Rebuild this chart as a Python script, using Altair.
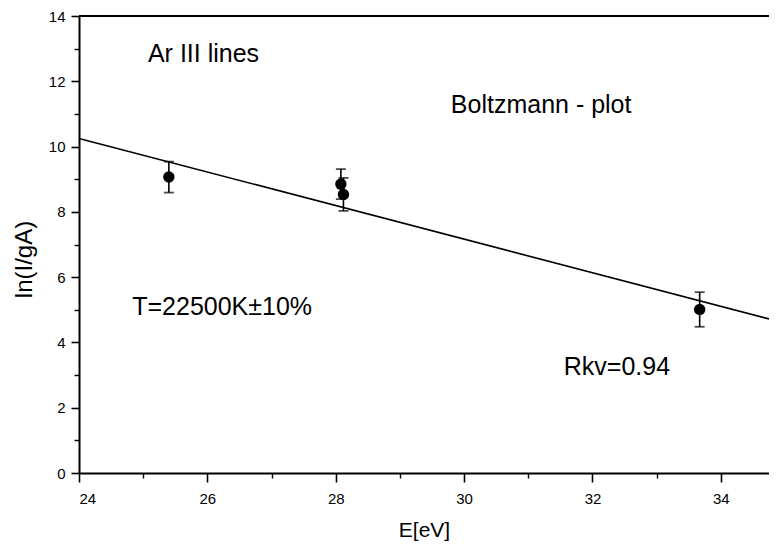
import altair as alt
import pandas as pd

# ---- data ----
energy = [25.40, 28.08, 28.12, 33.67]
ln_val = [9.07, 8.85, 8.53, 5.01]
err_lo = [8.59, 8.39, 8.03, 4.48]
err_hi = [9.54, 9.31, 9.04, 5.54]

fit_x = [24.0, 34.75]
fit_y = [10.25, 4.72]

x_major = [24, 26, 28, 30, 32, 34]
x_minor = [25, 27, 29, 31, 33]
y_major = [0, 2, 4, 6, 8, 10, 12, 14]
y_minor = [1, 3, 5, 7, 9, 11, 13]

notes = ["Ar III lines", "Boltzmann - plot", "T=22500K±10%", "Rkv=0.94"]
note_x = [25.94, 31.20, 26.23, 32.38]
note_y = [12.84, 11.26, 5.09, 3.25]

X_DOMAIN = [24, 34.75]
Y_DOMAIN = [0, 14]

FONT = "Liberation Sans"

pts = pd.DataFrame({"E": energy, "v": ln_val, "lo": err_lo, "hi": err_hi})
caps = pd.DataFrame({"E": energy + energy, "v": err_lo + err_hi})
fit = pd.DataFrame({"E": fit_x, "v": fit_y})
top = pd.DataFrame({"E": [X_DOMAIN[0]], "E2": [X_DOMAIN[1]], "v": [Y_DOMAIN[1]]})
txt = pd.DataFrame({"t": notes, "E": note_x, "v": note_y})

xs = alt.Scale(domain=X_DOMAIN, nice=False, zero=False)
ys = alt.Scale(domain=Y_DOMAIN, nice=False, zero=False)

x_major_axis = alt.Axis(
    values=x_major, orient="bottom", title="E[eV]", grid=False,
    tickSize=9, labelPadding=9, labelFontSize=15, labelFont=FONT,
    labelColor="black", titleFont=FONT, titleFontSize=21,
    titleFontWeight="normal", titleColor="black", titleY=57,
    titleBaseline="middle", domainColor="black", domainWidth=2,
    tickColor="black", tickWidth=1.6,
)
y_major_axis = alt.Axis(
    values=y_major, orient="left", title="ln(I/gA)", grid=False,
    tickSize=8, labelPadding=6, labelFontSize=15, labelFont=FONT,
    labelColor="black", titleFont=FONT, titleFontSize=24,
    titleFontWeight="normal", titleColor="black", titleX=-55, titleY=243,
    titleAngle=-90, titleAlign="center", titleBaseline="middle",
    domainColor="black", domainWidth=2, tickColor="black", tickWidth=1.6,
)
x_minor_axis = alt.Axis(
    values=x_minor, orient="bottom", title=None, labels=False, grid=False,
    domain=False, tickSize=5, tickColor="black", tickWidth=1.4,
)
y_minor_axis = alt.Axis(
    values=y_minor, orient="left", title=None, labels=False, grid=False,
    domain=False, tickSize=5, tickColor="black", tickWidth=1.4,
)

fit_line = alt.Chart(fit).mark_line(color="black", strokeWidth=1.6).encode(
    x=alt.X("E:Q", scale=xs, axis=x_minor_axis),
    y=alt.Y("v:Q", scale=ys, axis=y_minor_axis),
)

top_rule = alt.Chart(top).mark_rule(color="black", strokeWidth=2).encode(
    x=alt.X("E:Q", scale=xs, axis=None),
    x2="E2:Q",
    y=alt.Y("v:Q", scale=ys, axis=None),
)

err_rules = alt.Chart(pts).mark_rule(color="black", strokeWidth=1.6).encode(
    x=alt.X("E:Q", scale=xs, axis=None),
    y=alt.Y("lo:Q", scale=ys, axis=None),
    y2="hi:Q",
)

err_caps = alt.Chart(caps).mark_tick(
    color="black", orient="horizontal", size=10, thickness=1.8
).encode(
    x=alt.X("E:Q", scale=xs, axis=None),
    y=alt.Y("v:Q", scale=ys, axis=None),
)

points = alt.Chart(pts).mark_circle(color="black", opacity=1, size=130).encode(
    x=alt.X("E:Q", scale=xs, axis=x_major_axis),
    y=alt.Y("v:Q", scale=ys, axis=y_major_axis),
)

labels = alt.Chart(txt).mark_text(
    font=FONT, fontSize=25, color="black", align="center", baseline="middle"
).encode(
    x=alt.X("E:Q", scale=xs, axis=None),
    y=alt.Y("v:Q", scale=ys, axis=None),
    text="t:N",
)

chart = (
    alt.layer(fit_line, top_rule, err_rules, err_caps, points, labels)
    .resolve_axis(x="independent", y="independent")
    .properties(
        width=690,
        height=457,
        padding={"left": 71, "top": 8, "right": 0, "bottom": 70},
        autosize=alt.AutoSizeParams(type="none"),
        background="white",
    )
    .configure_view(stroke=None)
    .configure_axis(labelColor="black", domainColor="black", tickColor="black")
)

chart.save("out.html", embed_options={"renderer": "svg", "actions": False})
